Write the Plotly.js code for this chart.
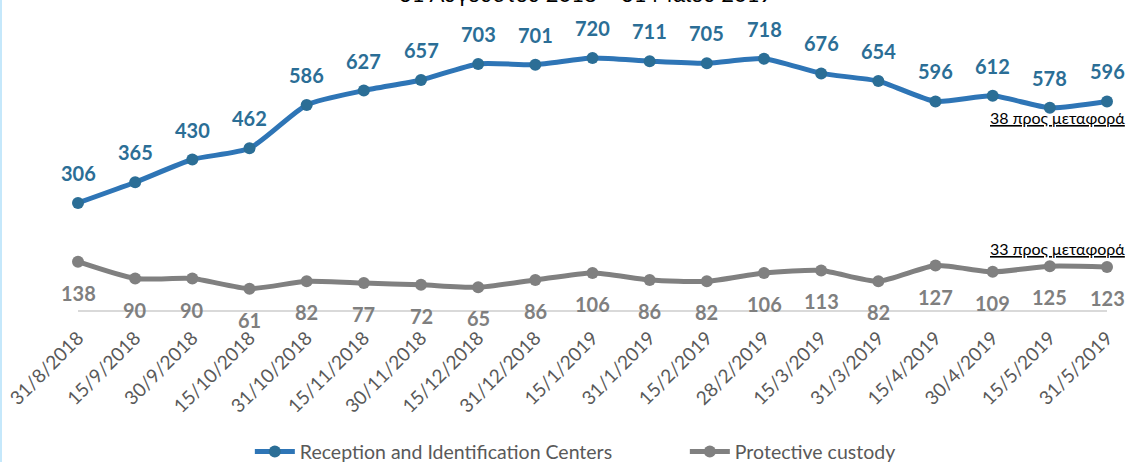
<!DOCTYPE html>
<html><head><meta charset="utf-8">
<script src="https://cdn.plot.ly/plotly-3.0.1.min.js"></script>
<style>
html,body{margin:0;padding:0;background:#fff;}
#wrap{position:relative;width:1130px;height:462px;overflow:hidden;}
#chart{width:1130px;height:462px;}
#frame{position:absolute;left:0;top:0;width:2px;height:462px;background:#c5e8fb;}
</style></head>
<body><div id="wrap"><div id="chart"></div><div id="frame"></div></div>
<script>
const dates = ["31/8/2018","15/9/2018","30/9/2018","15/10/2018","31/10/2018","15/11/2018","30/11/2018","15/12/2018","31/12/2018","15/1/2019","31/1/2019","15/2/2019","28/2/2019","15/3/2019","31/3/2019","15/4/2019","30/4/2019","15/5/2019","31/5/2019"];
const reception = [306,365,430,462,586,627,657,703,701,720,711,705,718,676,654,596,612,578,596];
const custody = [138,90,90,61,82,77,72,65,86,106,86,82,106,113,82,127,109,125,123];
const seriesNames = ["Reception and Identification Centers","Protective custody"];
const titleText = "31 Αυγούστου 2018 – 31 Μαΐου 2019";
const notes = ["38 προς μεταφορά","33 προς μεταφορά"];
const noteValues = [551,177];

const FONT = "Lato, 'Open Sans', sans-serif";
const blue = "#2e75b6", blueM = "#2b6e96", gray = "#808080";

const traces = [
  {x: dates, y: reception, name: seriesNames[0], type: "scatter", mode: "lines+markers",
   line: {color: blue, width: 5, shape: "spline", smoothing: 0.6},
   marker: {color: blueM, size: 12}, cliponaxis: false},
  {x: dates, y: custody, name: seriesNames[1], type: "scatter", mode: "lines+markers",
   line: {color: gray, width: 5, shape: "spline", smoothing: 0.6},
   marker: {color: gray, size: 12}, cliponaxis: false}
];

const annotations = [];
dates.forEach((d, i) => {
  annotations.push({x: d, y: reception[i], text: "<b>" + reception[i] + "</b>", showarrow: false,
    yshift: 30, font: {family: FONT, size: 20, color: blueM}});
  annotations.push({x: d, y: custody[i], text: "<b>" + custody[i] + "</b>", showarrow: false,
    yshift: -31, font: {family: FONT, size: 20, color: "#7f7f7f"}});
});
notes.forEach((t, i) => {
  annotations.push({xref: "paper", x: 0.884, xanchor: "left", y: noteValues[i], yanchor: "middle",
    text: "<u>" + t + "</u>", showarrow: false, font: {family: FONT, size: 16, color: "#000"}});
});
annotations.push({xref: "paper", yref: "paper", x: 0.493, xanchor: "center", y: 1.0, yanchor: "bottom",
  yshift: 21, text: titleText, showarrow: false, font: {family: FONT, size: 22, color: "#000"}});

const layout = {
  width: 1130, height: 462,
  margin: {l: 78, r: 23, t: 30, b: 152},
  paper_bgcolor: "#fff", plot_bgcolor: "#fff",
  showlegend: true,
  legend: {orientation: "h", x: 0.167, xanchor: "left", yref: "container", y: 0.022, yanchor: "middle",
    font: {family: FONT, size: 19.5, color: "#595959"}, itemwidth: 40, entrywidth: 380, tracegroupgap: 0},
  xaxis: {type: "category", range: [0, dates.length - 1], showgrid: false, zeroline: false, automargin: false,
    showline: true, linecolor: "#d9d9d9", linewidth: 1.5, ticks: "outside", ticklen: 8, tickcolor: "rgba(0,0,0,0)", tickangle: -45,
    tickfont: {family: FONT, size: 19, color: "#595959"}, fixedrange: true},
  yaxis: {range: [0, 800], visible: false, showgrid: false, zeroline: false, fixedrange: true, automargin: false},
  annotations: annotations
};
Plotly.newPlot("chart", traces, layout, {displayModeBar: false, staticPlot: true});
</script></body></html>
